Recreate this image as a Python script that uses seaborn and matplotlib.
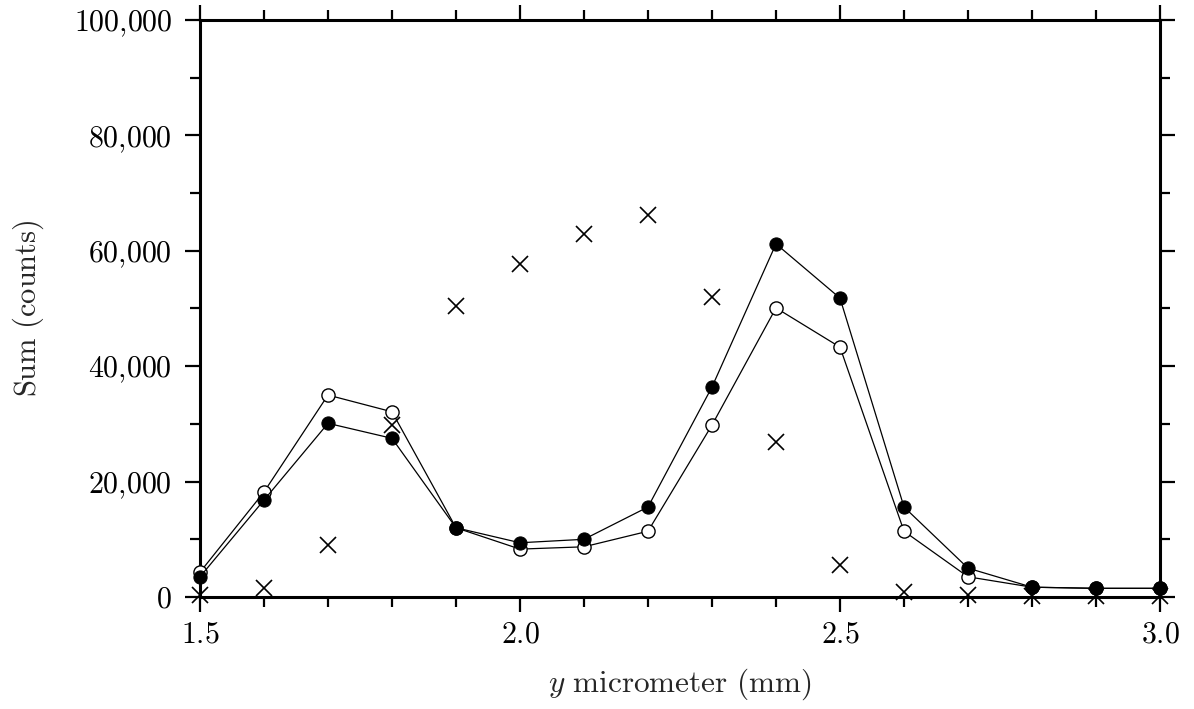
import matplotlib
matplotlib.use("Agg")
import matplotlib.pyplot as plt
import seaborn as sns
import pandas as pd
from matplotlib.ticker import MultipleLocator, FuncFormatter

x_mm = [1.5, 1.6, 1.7, 1.8, 1.9, 2.0, 2.1, 2.2, 2.3, 2.4, 2.5, 2.6, 2.7, 2.8, 2.9, 3.0]
filled = [3500, 16800, 30100, 27500, 12000, 9400, 10000, 15600, 36400, 61200, 51800, 15600, 5000, 1700, 1500, 1500]
opened = [4300, 18200, 35000, 32100, 12000, 8300, 8700, 11400, 29800, 50100, 43300, 11400, 3500, 1700, 1500, 1500]
crosses = [300, 1500, 9000, 29800, 50400, 57700, 62900, 66200, 52000, 26900, 5500, 800, 400, 100, 100, 100]

xticks = [1.5, 2.0, 2.5, 3.0]
yticks = [0, 20000, 40000, 60000, 80000, 100000]

sns.set_style("ticks")
plt.rcParams["mathtext.fontset"] = "cm"
plt.rcParams["font.family"] = ["DejaVu Serif"]

df = pd.DataFrame({"x": x_mm, "filled": filled, "opened": opened, "crosses": crosses})

fig = plt.figure(figsize=(11.94, 7.09), dpi=100)
ax = fig.add_axes([200 / 1194, 112 / 709, 960 / 1194, 577 / 709])

sns.lineplot(data=df, x="x", y="opened", ax=ax, color="black", linewidth=0.9,
             marker="o", markersize=9.5, markerfacecolor="white",
             markeredgecolor="black", markeredgewidth=1.0, sort=False, zorder=3,
             clip_on=False)
sns.lineplot(data=df, x="x", y="filled", ax=ax, color="black", linewidth=0.9,
             marker="o", markersize=9.5, markerfacecolor="black",
             markeredgecolor="black", sort=False, zorder=4, clip_on=False)
sns.lineplot(data=df, x="x", y="crosses", ax=ax, color="black", linestyle="none",
             marker="x", markersize=12, markeredgewidth=1.2,
             markeredgecolor="black", markerfacecolor="black",
             sort=False, zorder=5, clip_on=False)

ax.set_xlim(1.5, 3.0)
ax.set_ylim(0, 100000)
ax.set_xticks(xticks)
ax.set_yticks(yticks)
ax.xaxis.set_minor_locator(MultipleLocator(0.1))
ax.yaxis.set_minor_locator(MultipleLocator(10000))

ax.xaxis.set_major_formatter(FuncFormatter(lambda v, p: r"$%.1f$" % v))
ax.yaxis.set_major_formatter(FuncFormatter(lambda v, p: r"$%s$" % format(int(round(v)), ",").replace(",", "{,}")))

for s in ax.spines.values():
    s.set_linewidth(2.2)
    s.set_visible(True)
    s.set_color("black")

ax.tick_params(which="both", direction="out", top=True, right=True, labeltop=False,
               labelright=False, colors="black", width=1.6)
ax.tick_params(which="major", length=11, labelsize=21.5)
ax.tick_params(which="minor", length=7.5)
ax.tick_params(axis="y", which="major", pad=9)
ax.tick_params(axis="x", which="major", pad=6)

ax.set_xlabel(r"$y\ \mathrm{micrometer\ (mm)}$", fontsize=22.5, labelpad=13)
ax.set_ylabel(r"$\mathrm{Sum\ (counts)}$", fontsize=22, labelpad=20)

ax.set_facecolor("white")
fig.patch.set_facecolor("white")
fig.savefig("out.png", dpi=100)
